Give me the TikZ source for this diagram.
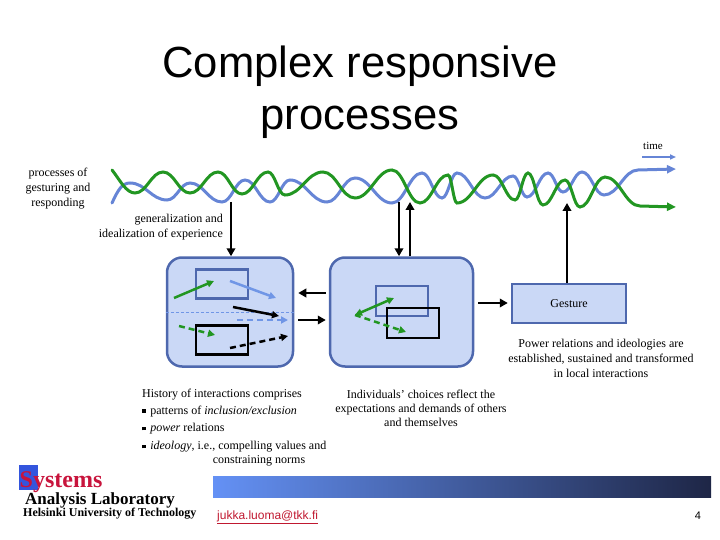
\documentclass[tikz,border=0pt]{standalone}
\usepackage{fontspec}
\setmainfont{Liberation Serif}
\newfontfamily\arialfont{Liberation Sans}
\usetikzlibrary{arrows.meta,calc}
\definecolor{wblue}{HTML}{6685D6}
\definecolor{wgreen}{HTML}{229622}
\definecolor{boxfill}{HTML}{CAD8F6}
\definecolor{boxline}{HTML}{4E68AE}
\definecolor{lblue}{HTML}{7096E6}
\definecolor{sysred}{HTML}{C8143C}
\definecolor{sysblue}{HTML}{3355DD}
\definecolor{barleft}{HTML}{6491F5}
\definecolor{barright}{HTML}{1E2646}
\definecolor{mailred}{HTML}{C01830}
\newcommand{\sqbul}{\raisebox{1.2pt}{\rule{3.6pt}{3.6pt}}\hspace{4.5pt}}
\begin{document}
\begin{tikzpicture}[x=1pt,y=-1pt,
  sw/.style={to path={.. controls ($(\tikztostart)!0.42!(\tikztotarget|-\tikztostart)$) and ($(\tikztotarget)!0.42!(\tikztostart|-\tikztotarget)$) .. (\tikztotarget)}},
  wave/.style={line width=3pt, line cap=round},
  blk/.style={draw=black, line width=2.5pt, -{Triangle[length=8pt,width=8.5pt]}},
  inarr/.style={line width=2.5pt, -{Triangle[length=7pt,width=7pt]}},
  dsh/.style={dash pattern=on 6pt off 4pt},
  bigbox/.style={draw=boxline, fill=boxfill, line width=2.5pt, rounded corners=15pt, minimum height=109pt, inner sep=0pt},
  inrect/.style={draw=#1, line width=2.5pt, minimum width=52pt, minimum height=29pt, inner sep=0pt},
  txt/.style={font=\fontsize{12}{15}\selectfont, inner sep=0pt, align=center},
  ltxt/.style={font=\fontsize{12}{15}\selectfont, inner sep=0pt},
]
\useasboundingbox (0,0) rectangle (720,540);

% title
\node[font=\arialfont\fontsize{43.6}{52}\selectfont, anchor=base, inner sep=0pt] (title1) at (360,78) {Complex responsive};
\node[font=\arialfont\fontsize{43.6}{52}\selectfont, anchor=base, inner sep=0pt] (title2) at (360,130) {processes};

% time arrow
\node[font=\fontsize{11}{13}\selectfont, inner sep=0pt] (time) at (653,146) {time};
\coordinate (tA) at (642,157);
\coordinate (tB) at (676,157);
\draw[line width=2pt, wblue, -{Triangle[length=6pt,width=5pt]}] (tA) -- (tB);

% waves
\draw[wave, wblue, -{Triangle[length=9pt,width=8pt]}]
  (112,203) .. controls (118,190) and (122,183) .. (130,183)
  to[sw] (167,200) to[sw] (190,183) to[sw] (222,202) to[sw] (245,180)
  to[sw] (270,202) to[sw] (290,180) to[sw] (327,202) to[sw] (355,178)
  to[sw] (392,203) to[sw] (422,173) to[sw] (442,198) to[sw] (457,173)
  to[sw] (485,198) to[sw] (513,176) to[sw] (527,197) to[sw] (548,173)
  to[sw] (563,192) to[sw] (582,172) to[sw] (604,195) to[sw] (638,170)
  -- (676,169);
\draw[wave, wgreen, -{Triangle[length=9pt,width=8pt]}]
  (112,170) .. controls (120,180) and (126,193) .. (135,193)
  to[sw] (163,172) to[sw] (190,193) to[sw] (218,172) to[sw] (242,194)
  to[sw] (268,172) to[sw] (285,195) to[sw] (323,172) to[sw] (355,198)
  to[sw] (392,170) to[sw] (420,203) to[sw] (448,175) to[sw] (457,203)
  to[sw] (493,175) to[sw] (515,200) to[sw] (528,173) to[sw] (543,205)
  to[sw] (565,180) to[sw] (580,207) to[sw] (605,177) to[sw] (640,206)
  -- (676,207);

% labels near waves
\node[txt] (proc) at (58,189) {processes of\\gesturing and\\responding};
\node[txt, align=right, anchor=east] (gen) at (223,227) {generalization and\\idealization of experience};

% big boxes
\node[bigbox, minimum width=126pt] (lbox) at (230,312) {};
\node[bigbox, minimum width=143pt] (rbox) at (401.5,312) {};
\node[draw=boxline, fill=boxfill, line width=2.5pt, minimum width=114pt, minimum height=39pt, inner sep=0pt, font=\fontsize{12}{15}\selectfont] (gest) at (569,303.5) {Gesture};

% wave <-> box arrows
\coordinate (w1) at (231,202);
\coordinate (w2) at (399,202);
\coordinate (w3) at (410,202);
\coordinate (w4) at (567,203);
\draw[blk] (w1) -- (w1 |- lbox.north);
\draw[blk] (w2) -- (w2 |- rbox.north);
\draw[blk] (w3 |- rbox.north) -- (w3);
\draw[blk] (w4 |- gest.north) -- (w4);

% box <-> box arrows
\draw[blk, shorten <=3pt, shorten >=4pt] (rbox.west |- 0,293) -- (lbox.east |- 0,293);
\draw[blk, shorten <=4pt, shorten >=3pt] (lbox.east |- 0,320) -- (rbox.west |- 0,320);
\draw[blk, shorten <=4pt, shorten >=3pt] (rbox.east |- 0,303) -- (gest.west |- 0,303);

% inside left box
\draw[lblue, line width=1pt, dash pattern=on 3pt off 2pt] (lbox.west) -- (lbox.east);
\node[inrect=boxline] (lbr) at (222,284) {};
\node[inrect=black] (lkr) at (222,340) {};
\coordinate (a1) at (174,298); \coordinate (a2) at (214,281);
\coordinate (b1) at (230,281); \coordinate (b2) at (276,298);
\coordinate (c1) at (233,307); \coordinate (c2) at (279,316);
\coordinate (d1) at (237,320); \coordinate (d2) at (288,320);
\coordinate (e1) at (179,326); \coordinate (e2) at (215,335);
\coordinate (f1) at (230,348); \coordinate (f2) at (288,336);
\draw[inarr, wgreen] (a1) -- (a2);
\draw[inarr, lblue] (b1) -- (b2);
\draw[inarr, black] (c1) -- (c2);
\draw[inarr, lblue, dsh] (d1) -- (d2);
\draw[inarr, wgreen, dsh] (e1) -- (e2);
\draw[inarr, black, dsh] (f1) -- (f2);

% inside right box
\node[inrect=boxline, minimum height=30pt] (rbr) at (402,301) {};
\node[inrect=black, minimum height=30pt] (rkr) at (413,323) {};
\coordinate (g0) at (355,315);
\coordinate (g1) at (394,298);
\coordinate (g2) at (406,332);
\draw[line width=2.5pt, wgreen, {Triangle[length=7pt,width=7pt]}-{Triangle[length=7pt,width=7pt]}] (g0) -- (g1);
\draw[inarr, wgreen, dsh] (g0) -- (g2);

% texts
\node[txt] (power) at (601,358) {Power relations and ideologies are\\established, sustained and transformed\\in local interactions};
\node[txt, font=\fontsize{12}{14}\selectfont] (indiv) at (421,408.5) {Individuals’ choices reflect the\\expectations and demands of others\\and themselves};

\node[ltxt, anchor=base west] (h1) at (142,397.5) {History of interactions comprises};
\node[ltxt, anchor=base west] (h2) at (142,414) {\sqbul patterns of \textit{inclusion/exclusion}};
\node[ltxt, anchor=base west] (h3) at (142,431.5) {\sqbul \textit{power} relations};
\node[ltxt, anchor=base west] (h4) at (142,449.5) {\sqbul \textit{ideology}, i.e., compelling values and};
\node[ltxt, anchor=base] (h5) at (259,463.5) {constraining norms};

% footer
\fill[sysblue] (19,465) rectangle (38,490);
\node[font=\bfseries\fontsize{24}{24}\selectfont, text=sysred, anchor=base west, inner sep=0pt] (sys) at (19.5,487) {Systems};
\node[font=\bfseries\fontsize{17}{18}\selectfont, anchor=base west, inner sep=0pt] (sal) at (25,504) {Analysis Laboratory};
\node[font=\bfseries\fontsize{12}{13}\selectfont, anchor=base west, inner sep=0pt] (hut) at (23,516.5) {Helsinki University of Technology};
\shade[left color=barleft, right color=barright] (213,476) rectangle (711,497);
\node[font=\arialfont\fontsize{12}{13}\selectfont, text=mailred, anchor=base west, inner sep=0pt] (mail) at (217,519) {\underline{jukka.luoma@tkk.fi}};
\node[font=\arialfont\fontsize{11}{13}\selectfont, anchor=base, inner sep=0pt] (pnum) at (698,519) {4};
\end{tikzpicture}
\end{document}
